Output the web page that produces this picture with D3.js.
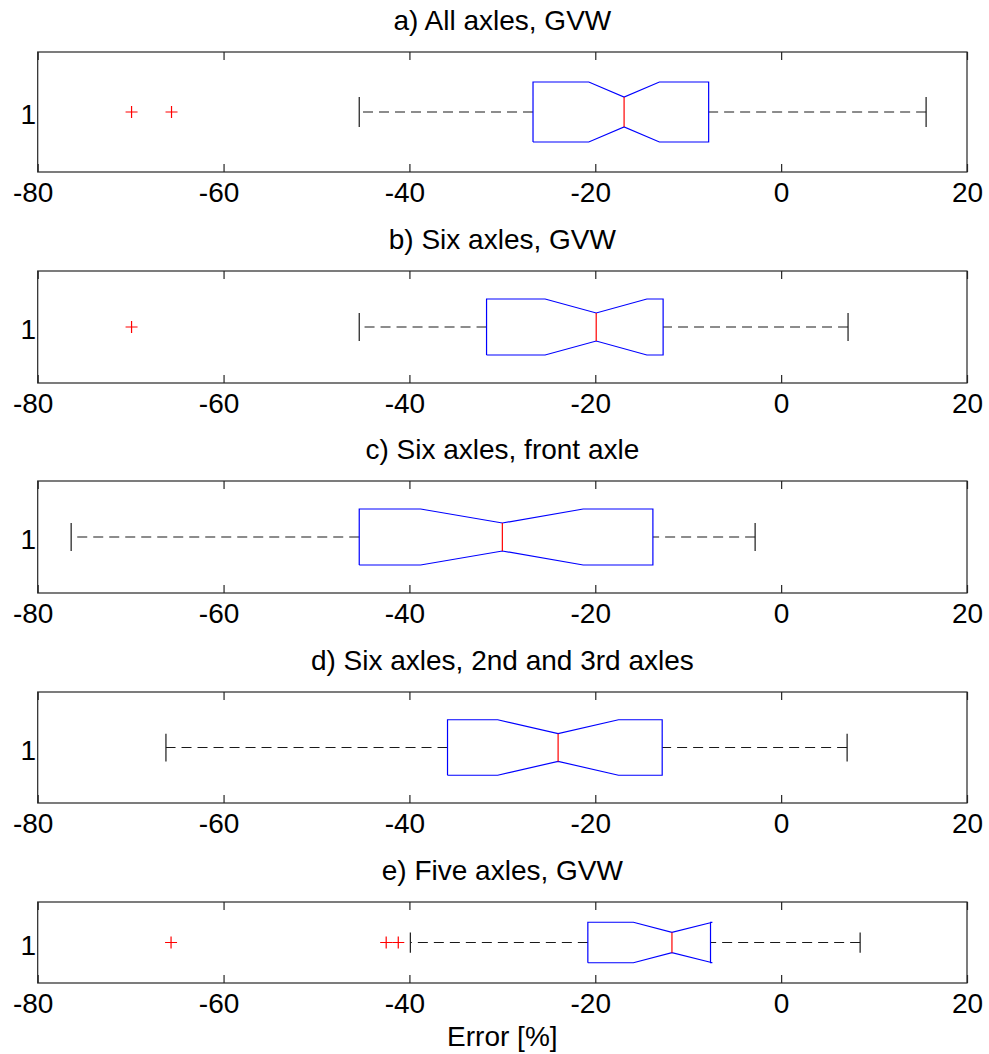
<!DOCTYPE html>
<meta charset="utf-8">
<style>
  body { margin: 0; background: #fff; }
  svg { font-family: "Liberation Sans", Arial, sans-serif; }
  .frame { fill: none; stroke: #262626; stroke-width: 1.2; }
  .box { fill: none; stroke: #0000ff; stroke-width: 1.2; }
  .median { stroke: #ff0000; stroke-width: 1.2; }
  .whisker { stroke: #1a1a1a; stroke-width: 1.2; stroke-dasharray: 10,6; }
  .cap { stroke: #1a1a1a; stroke-width: 1.2; }
  .outlier { stroke: #ff0000; stroke-width: 1.2; fill: none; }
</style>
<body>
</body>
<script src="https://cdn.jsdelivr.net/npm/d3@7/dist/d3.min.js"></script>
<script>
  // values
  const titles = ['a) All axles, GVW', 'b) Six axles, GVW', 'c) Six axles, front axle',
                  'd) Six axles, 2nd and 3rd axles', 'e) Five axles, GVW'];
  const lowerWhisker = [-45.4, -45.4, -76.4, -66.2, -39.9];
  const q1 = [-26.7, -31.7, -45.4, -35.9, -20.8];
  const notchLo = [-20.7, -25.4, -38.8, -30.5, -15.9];
  const median = [-16.9, -19.9, -30.0, -24.0, -11.75];
  const notchHi = [-13.1, -14.45, -21.3, -17.5, -7.4];
  const q3 = [-7.8, -12.7, -13.8, -12.8, -7.6];
  const upperWhisker = [15.6, 7.2, -2.8, 7.1, 8.5];
  const outliers = [[-69.9, -65.6], [-69.9], [], [], [-65.65, -42.5, -41.2]];
  const xTicks = [-80, -60, -40, -20, 0, 20];
  const xLabel = 'Error [%]';

  // panel frames (top, bottom) in px
  const frames = [[52, 172], [271, 383], [481, 593], [692, 803], [902, 983]];
  const W = 989, H = 1054;
  const left = 37.7, right = 967;
  const fs = 28;

  const svg = d3.select('body').append('svg').attr('width', W).attr('height', H);
  const x = d3.scaleLinear().domain([-80, 20]).range([left, right]);

  titles.forEach((title, i) => {
    const [top, bottom] = frames[i];
    const y = d3.scaleLinear().domain([1.5, 0.5]).range([top, bottom]);
    const g = svg.append('g');

    g.append('text')
      .attr('x', (left + right) / 2).attr('y', top - 22)
      .attr('text-anchor', 'middle').attr('font-size', fs)
      .text(title);

    // top ticks
    g.append('g')
      .attr('transform', `translate(0,${top})`)
      .call(d3.axisTop(x).tickValues(xTicks).tickSizeInner(-8).tickSizeOuter(0).tickFormat(''))
      .call(a => a.select('.domain').remove())
      .selectAll('line').attr('stroke', '#262626').attr('stroke-width', 1.2);

    // bottom axis with labels
    const bax = g.append('g')
      .attr('transform', `translate(0,${bottom})`)
      .call(d3.axisBottom(x).tickValues(xTicks).tickSizeInner(-8).tickSizeOuter(0)
              .tickPadding(10).tickFormat(d => String(d)))
      .call(a => a.select('.domain').remove());
    bax.selectAll('line').attr('stroke', '#262626').attr('stroke-width', 1.2);
    bax.selectAll('text')
      .attr('font-size', fs).attr('font-family', '"Liberation Sans", Arial, sans-serif')
      .attr('fill', '#000')
      .attr('dx', d => d < 0 ? -5 : 0);

    g.append('rect').attr('class', 'frame')
      .attr('x', left).attr('y', top)
      .attr('width', right - left).attr('height', bottom - top);

    g.append('text')
      .attr('x', left - 1.5).attr('y', y(1) + 12)
      .attr('text-anchor', 'end').attr('font-size', fs)
      .text('1');

    // whiskers
    g.append('line').attr('class', 'whisker')
      .attr('x1', x(q1[i])).attr('x2', x(lowerWhisker[i]))
      .attr('y1', y(1)).attr('y2', y(1));
    g.append('line').attr('class', 'whisker')
      .attr('x1', x(upperWhisker[i])).attr('x2', x(q3[i]))
      .attr('y1', y(1)).attr('y2', y(1));
    [lowerWhisker[i], upperWhisker[i]].forEach(v => {
      g.append('line').attr('class', 'cap')
        .attr('x1', x(v)).attr('x2', x(v))
        .attr('y1', y(1.125)).attr('y2', y(0.875));
    });

    // notched box
    const pts = [
      [q1[i], 0.75], [notchLo[i], 0.75], [median[i], 0.875], [notchHi[i], 0.75], [q3[i], 0.75],
      [q3[i], 1.25], [notchHi[i], 1.25], [median[i], 1.125], [notchLo[i], 1.25], [q1[i], 1.25], [q1[i], 0.75]
    ];
    g.append('path').attr('class', 'box')
      .attr('d', d3.line().x(d => x(d[0])).y(d => y(d[1]))(pts));

    g.append('line').attr('class', 'median')
      .attr('x1', x(median[i])).attr('x2', x(median[i]))
      .attr('y1', y(1.125)).attr('y2', y(0.875));

    g.selectAll('path.outlier')
      .data(outliers[i])
      .join('path')
      .attr('class', 'outlier')
      .attr('d', d => `M${x(d) - 6},${y(1)}h12M${x(d)},${y(1) - 6}v12`);
  });

  svg.append('text')
    .attr('x', (left + right) / 2).attr('y', 1046)
    .attr('text-anchor', 'middle').attr('font-size', fs)
    .text(xLabel);
</script>
